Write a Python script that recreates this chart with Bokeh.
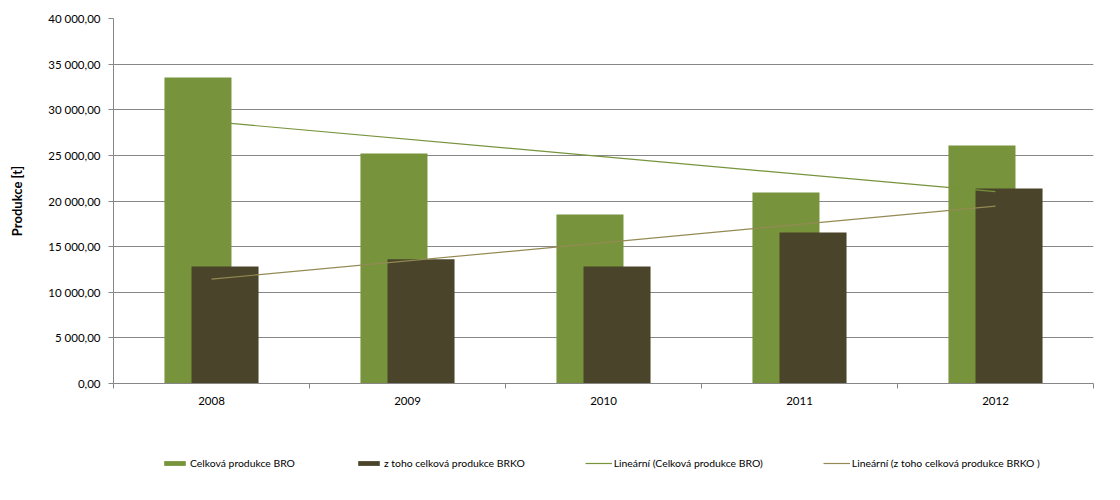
import numpy as np
from bokeh.plotting import figure
from bokeh.layouts import column
from bokeh.models import (ColumnDataSource, FixedTicker, Legend, LegendItem, Range1d)
from bokeh.embed import file_html
from bokeh.resources import INLINE

years = ["2008", "2009", "2010", "2011", "2012"]
bro = [33534, 25205, 18521, 20931, 26082]
brko = [12822, 13625, 12822, 16548, 21370]
y_ticks = [0, 5000, 10000, 15000, 20000, 25000, 30000, 35000, 40000]

series_names = ["Celková produkce BRO", "z toho celková produkce BRKO",
                "Lineární (Celková produkce BRO)", "Lineární (z toho celková produkce BRKO )"]

GREEN = "#77933C"
DARK = "#4A452A"
TREND2 = "#948A54"
GRID = "#878787"
FONT = "Lato"

idx = np.arange(len(years))
centers = idx + 0.5
off = 0.069
bw = 0.342

src = ColumnDataSource(dict(x1=centers - off, x2=centers + off, bro=bro, brko=brko))

p = figure(width=1104, height=420, output_backend="svg", toolbar_location=None,
           x_range=Range1d(0, len(years)), y_range=Range1d(0, 40000),
           min_border_left=113, min_border_right=11, min_border_top=18, min_border_bottom=37)
p.outline_line_color = None
p.background_fill_color = "white"
p.border_fill_color = "white"

p.vbar(x="x1", top="bro", width=bw, bottom=0, source=src, fill_color=GREEN, line_color=None)
p.vbar(x="x2", top="brko", width=bw, bottom=0, source=src, fill_color=DARK, line_color=None)

# linear trend lines (least squares, like Excel)
k1, q1 = np.polyfit(idx, bro, 1)
k2, q2 = np.polyfit(idx, brko, 1)
xs = [centers[0], centers[-1]]
p.line(xs, [q1 + k1 * idx[0], q1 + k1 * idx[-1]], line_color=GREEN, line_width=1.2)
p.line(xs, [q2 + k2 * idx[0], q2 + k2 * idx[-1]], line_color=TREND2, line_width=1.2)

# x axis
p.xaxis.ticker = FixedTicker(ticks=list(centers), minor_ticks=list(range(len(years) + 1)))
p.xaxis.major_label_overrides = {float(c): y for c, y in zip(centers, years)}
p.xaxis.major_tick_out = 0
p.xaxis.major_tick_in = 0
p.xaxis.minor_tick_out = 5
p.xaxis.minor_tick_in = 0
p.xaxis.minor_tick_line_color = GRID
p.xaxis.axis_line_color = GRID
p.xaxis.major_label_standoff = 8
p.xaxis.major_label_text_font = FONT
p.xaxis.major_label_text_font_size = "11.5px"
p.xaxis.major_label_text_color = "#000000"
p.xgrid.visible = False

# y axis
def fmt(v):
    s = f"{v:,.2f}"
    return s.replace(",", " ").replace(".", ",")

p.yaxis.ticker = FixedTicker(ticks=y_ticks, minor_ticks=[])
p.yaxis.major_label_overrides = {t: fmt(t) for t in y_ticks}
p.yaxis.major_tick_out = 5
p.yaxis.major_tick_in = 0
p.yaxis.major_tick_line_color = GRID
p.yaxis.axis_line_color = GRID
p.yaxis.major_label_standoff = 8
p.yaxis.major_label_text_font = FONT
p.yaxis.major_label_text_font_size = "11.5px"
p.yaxis.major_label_text_color = "#000000"
p.yaxis.axis_label = "Produkce [t]"
p.yaxis.axis_label_text_font = FONT
p.yaxis.axis_label_text_font_style = "bold"
p.yaxis.axis_label_text_font_size = "13px"
p.yaxis.axis_label_text_color = "#000000"
p.yaxis.axis_label_standoff = 20
p.ygrid.grid_line_color = GRID
p.ygrid.grid_line_width = 1
p.ygrid.ticker = FixedTicker(ticks=y_ticks)

# legend strip below the chart (same glyph styles as the chart's series)
lg = figure(width=1104, height=64, output_backend="svg", toolbar_location=None,
            x_range=Range1d(0, 1), y_range=Range1d(0, 1),
            x_axis_type=None, y_axis_type=None,
            min_border_left=0, min_border_right=0, min_border_top=0, min_border_bottom=0)
lg.outline_line_color = None
lg.xgrid.visible = False
lg.ygrid.visible = False
blank = ColumnDataSource(dict(x=[np.nan], y=[np.nan]))
g1 = lg.vbar(x="x", top="y", width=0.1, source=blank, fill_color=GREEN, line_color=None)
g2 = lg.vbar(x="x", top="y", width=0.1, source=blank, fill_color=DARK, line_color=None)
g3 = lg.line(x="x", y="y", source=blank, line_color=GREEN, line_width=1.2)
g4 = lg.line(x="x", y="y", source=blank, line_color=TREND2, line_width=1.2)

legend = Legend(items=[LegendItem(label=n, renderers=[g], index=0)
                       for n, g in zip(series_names, [g1, g2, g3, g4])],
                orientation="horizontal", location=(48, 15))
legend.glyph_width = 27
legend.glyph_height = 6
legend.label_standoff = 2
legend.spacing = 60
legend.label_text_font = FONT
legend.label_text_font_size = "10.4px"
legend.label_text_color = "#000000"
legend.border_line_color = None
legend.background_fill_alpha = 0
legend.margin = 0
legend.padding = 0
legend.label_height = 12
lg.add_layout(legend, "center")

layout = column(p, lg)
open("out.html", "w").write(file_html(layout, INLINE))
